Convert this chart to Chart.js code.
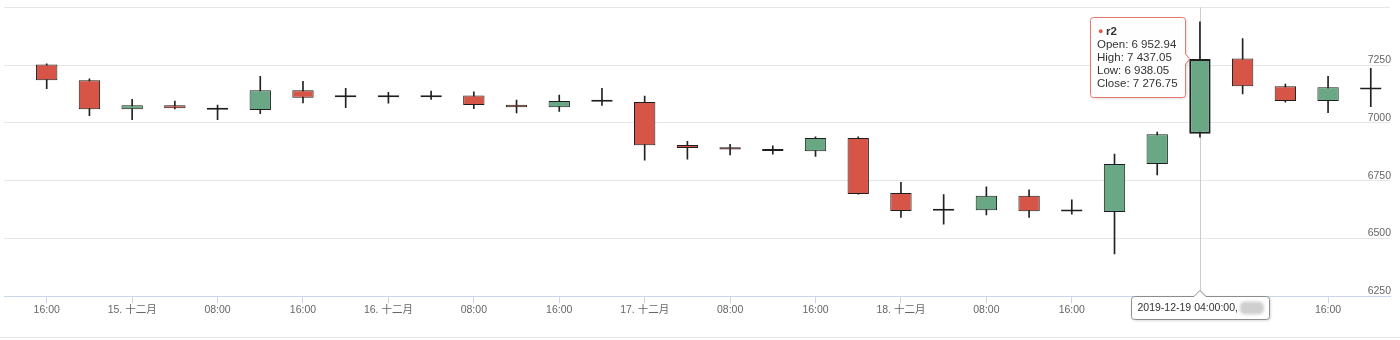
<!DOCTYPE html>
<html>
<head>
<meta charset="utf-8">
<script src="https://cdn.jsdelivr.net/npm/chart.js@4/dist/chart.umd.min.js"></script>
<style>
  html, body { margin: 0; padding: 0; background: #fff; }
  #wrap { width: 1400px; height: 340px; position: relative; }
</style>
</head>
<body>
<div id="wrap"><canvas id="kline"></canvas></div>
<script>
// serie r2, bougies de 4 heures
const seriesName = 'r2';
const times = [
    '2019-12-14 16:00', '2019-12-14 20:00', '2019-12-15 00:00', '2019-12-15 04:00',
    '2019-12-15 08:00', '2019-12-15 12:00', '2019-12-15 16:00', '2019-12-15 20:00',
    '2019-12-16 00:00', '2019-12-16 04:00', '2019-12-16 08:00', '2019-12-16 12:00',
    '2019-12-16 16:00', '2019-12-16 20:00', '2019-12-17 00:00', '2019-12-17 04:00',
    '2019-12-17 08:00', '2019-12-17 12:00', '2019-12-17 16:00', '2019-12-17 20:00',
    '2019-12-18 00:00', '2019-12-18 04:00', '2019-12-18 08:00', '2019-12-18 12:00',
    '2019-12-18 16:00', '2019-12-18 20:00', '2019-12-19 00:00', '2019-12-19 04:00',
    '2019-12-19 08:00', '2019-12-19 12:00', '2019-12-19 16:00', '2019-12-19 20:00'
];
const open = [7253, 7185, 7059, 7076, 7065, 7056, 7141, 7111, 7119, 7111, 7119, 7079, 7068, 7092, 7090, 6905,
              6895, 6887, 6878, 6935, 6697, 6620, 6622, 6685, 6617, 6615, 6822, 6952.94, 7279, 7159, 7095, 7152];
const high = [7256, 7191, 7102, 7095, 7077, 7201, 7180, 7150, 7132, 7138, 7134, 7099, 7121, 7150, 7116, 6921,
              6908, 6901, 6940, 6940, 6743, 6690, 6724, 6711, 6668, 6865, 6961, 7437.05, 7365, 7168, 7201, 7236];
const low = [7148, 7031, 7014, 7061, 7014, 7040, 7087, 7066, 7085, 7102, 7062, 7043, 7050, 7076, 6839, 6843,
             6862, 6865, 6855, 6692, 6592, 6562, 6602, 6592, 6606, 6434, 6775, 6938.05, 7125, 7090, 7044, 7070];
const close = [7185, 7059, 7076, 7063, 7057, 7141, 7109, 7119, 7111, 7119, 7078, 7068, 7095, 7093, 6904, 6892,
               6885, 6879, 6935, 6693, 6619, 6621, 6685, 6618, 6618, 6822, 6951, 7276.75, 7159, 7095, 7154, 7145];

const tickTimes = [
    '2019-12-14 16:00', '2019-12-15 00:00', '2019-12-15 08:00', '2019-12-15 16:00',
    '2019-12-16 00:00', '2019-12-16 08:00', '2019-12-16 16:00', '2019-12-17 00:00',
    '2019-12-17 08:00', '2019-12-17 16:00', '2019-12-18 00:00', '2019-12-18 08:00',
    '2019-12-18 16:00', '2019-12-19 00:00', '2019-12-19 08:00', '2019-12-19 16:00'
];
const tickLabels = ['16:00', '15. 十二月', '08:00', '16:00', '16. 十二月', '08:00', '16:00', '17. 十二月',
                    '08:00', '16:00', '18. 十二月', '08:00', '16:00', '19. 十二月', '08:00', '16:00'];
const yTickLabels = [6250, 6500, 6750, 7000, 7250];
const yMin = 6250, yMax = 7500;

const hoverIndex = times.indexOf('2019-12-19 04:00');

const upColor = '#6aa784';
const downColor = '#d75546';
const fontFamily = '"Liberation Sans", "Noto Sans CJK SC", sans-serif';

// heures depuis le 14/12 00:00
function toHours(s) {
    const [d, t] = s.split(' ');
    const [yy, mm, dd] = d.split('-').map(Number);
    const [hh, mi] = t.split(':').map(Number);
    return (Date.UTC(yy, mm - 1, dd, hh, mi) - Date.UTC(2019, 11, 14)) / 3600000;
}

function fmt(v) {
    const [a, b] = v.toFixed(2).split('.');
    return a.replace(/\B(?=(\d{3})+(?!\d))/g, ' ') + '.' + b;
}

function boxPath(ctx, x, y, w, h, r) {
    ctx.beginPath();
    ctx.moveTo(x + r, y);
    ctx.lineTo(x + w - r, y);
    ctx.arcTo(x + w, y, x + w, y + r, r);
    ctx.lineTo(x + w, y + h - r);
    ctx.arcTo(x + w, y + h, x + w - r, y + h, r);
    ctx.lineTo(x + r, y + h);
    ctx.arcTo(x, y + h, x, y + h - r, r);
    ctx.lineTo(x, y + r);
    ctx.arcTo(x, y, x + r, y, r);
    ctx.closePath();
}

const xs = times.map(toHours);

const overlay = {
    id: 'overlay',
    beforeDatasetsDraw(chart) {
        const el = chart.getDatasetMeta(0).data[hoverIndex];
        const a = chart.chartArea;
        const ctx = chart.ctx;
        ctx.save();
        ctx.strokeStyle = '#cccccc';
        ctx.lineWidth = 1;
        ctx.beginPath();
        ctx.moveTo(Math.round(el.x) + 0.5, a.top);
        ctx.lineTo(Math.round(el.x) + 0.5, a.bottom);
        ctx.stroke();
        ctx.restore();
    },
    afterDraw(chart) {
        const ctx = chart.ctx;
        const a = chart.chartArea;
        const i = hoverIndex;
        const el = chart.getDatasetMeta(0).data[i];

        // ligne du navigateur en bas
        ctx.save();
        ctx.strokeStyle = '#e6e6e6';
        ctx.beginPath();
        ctx.moveTo(0, chart.height - 2.5);
        ctx.lineTo(chart.width, chart.height - 2.5);
        ctx.stroke();
        ctx.restore();

        // infobulle
        const lines = [['Open: ', open[i]], ['High: ', high[i]], ['Low: ', low[i]], ['Close: ', close[i]]];
        ctx.save();
        ctx.font = '11.5px ' + fontFamily;
        let tw = 0;
        lines.forEach(l => { tw = Math.max(tw, ctx.measureText(l[0] + fmt(l[1])).width); });
        const lh = 13;
        const bw = Math.round(tw + 14);
        const bh = lh * 5 + 15;
        const bx = Math.round(el.x - el.width / 2 - 4 - bw) + 0.5;
        const by = Math.round(el.y - bh / 2) - 1.5;
        const cy = el.y;
        ctx.shadowColor = 'rgba(0,0,0,0.18)';
        ctx.shadowBlur = 3;
        ctx.shadowOffsetX = 1;
        ctx.shadowOffsetY = 1;
        ctx.beginPath();
        const r = 3;
        ctx.moveTo(bx + r, by);
        ctx.lineTo(bx + bw - r, by);
        ctx.arcTo(bx + bw, by, bx + bw, by + r, r);
        ctx.lineTo(bx + bw, cy - 5);
        ctx.lineTo(bx + bw + 4, cy);
        ctx.lineTo(bx + bw, cy + 5);
        ctx.lineTo(bx + bw, by + bh - r);
        ctx.arcTo(bx + bw, by + bh, bx + bw - r, by + bh, r);
        ctx.lineTo(bx + r, by + bh);
        ctx.arcTo(bx, by + bh, bx, by + bh - r, r);
        ctx.lineTo(bx, by + r);
        ctx.arcTo(bx, by, bx + r, by, r);
        ctx.closePath();
        ctx.fillStyle = 'rgba(255,255,255,0.96)';
        ctx.fill();
        ctx.shadowColor = 'transparent';
        ctx.strokeStyle = '#e5796c';
        ctx.lineWidth = 1;
        ctx.stroke();

        ctx.textBaseline = 'middle';
        ctx.textAlign = 'left';
        const tx = bx + 6.5;
        let ty = by + 14;
        ctx.fillStyle = '#e5574a';
        ctx.font = '9px ' + fontFamily;
        ctx.fillText('●', tx + 1, ty);
        ctx.fillStyle = '#333333';
        ctx.font = 'bold 11.5px ' + fontFamily;
        ctx.fillText(seriesName, tx + 9, ty);
        ctx.font = '11.5px ' + fontFamily;
        lines.forEach(l => {
            ty += lh;
            ctx.fillText(l[0] + fmt(l[1]), tx, ty);
        });
        ctx.restore();

        // etiquette de l'axe x
        ctx.save();
        ctx.font = '10.5px ' + fontFamily;
        const label = times[i] + ':00,';
        const lw = ctx.measureText(label).width;
        const blurW = 24;
        const w = Math.round(lw + blurW + 14);
        const h = 23;
        const lx = Math.round(el.x - w / 2) + 0.5;
        const ly = Math.round(a.bottom) + 0.5;
        ctx.shadowColor = 'rgba(0,0,0,0.18)';
        ctx.shadowBlur = 3;
        ctx.shadowOffsetX = 1;
        ctx.shadowOffsetY = 1;
        ctx.beginPath();
        ctx.moveTo(lx + r, ly);
        ctx.lineTo(el.x - 6, ly);
        ctx.lineTo(el.x, ly - 6);
        ctx.lineTo(el.x + 6, ly);
        ctx.lineTo(lx + w - r, ly);
        ctx.arcTo(lx + w, ly, lx + w, ly + r, r);
        ctx.lineTo(lx + w, ly + h - r);
        ctx.arcTo(lx + w, ly + h, lx + w - r, ly + h, r);
        ctx.lineTo(lx + r, ly + h);
        ctx.arcTo(lx, ly + h, lx, ly + h - r, r);
        ctx.lineTo(lx, ly + r);
        ctx.arcTo(lx, ly, lx + r, ly, r);
        ctx.closePath();
        ctx.fillStyle = '#ffffff';
        ctx.fill();
        ctx.shadowColor = 'transparent';
        ctx.strokeStyle = '#8c8c8c';
        ctx.stroke();
        ctx.fillStyle = '#333333';
        ctx.textBaseline = 'middle';
        ctx.fillText(label, lx + 6, ly + h / 2);
        ctx.filter = 'blur(1.5px)';
        ctx.fillStyle = '#cfcfcf';
        boxPath(ctx, lx + 8 + lw, ly + 5, blurW, h - 10, 5);
        ctx.fill();
        ctx.restore();
    }
};

document.addEventListener('DOMContentLoaded', () => {
    const ctx = document.getElementById('kline').getContext('2d');
    Chart.defaults.font.family = fontFamily;
    Chart.defaults.font.size = 10.5;
    Chart.defaults.color = '#666666';

    new Chart(ctx, {
        type: 'bar',
        data: {
            datasets: [{
                label: seriesName,
                data: xs.map((x, i) => ({ x: x, y: [open[i], close[i]] })),
                backgroundColor: open.map((o, i) => close[i] >= o ? upColor : downColor),
                borderColor: '#1e1e1e',
                borderWidth: c => c.dataIndex === hoverIndex ? 2 : 1,
                borderSkipped: false,
                minBarLength: 2,
                grouped: false,
                barPercentage: 0.5,
                categoryPercentage: 1,
                order: 0
            }, {
                label: seriesName + ' wick',
                data: xs.map((x, i) => ({ x: x, y: [low[i], high[i]] })),
                backgroundColor: '#222222',
                borderWidth: 0,
                grouped: false,
                barThickness: c => c.dataIndex === hoverIndex ? 2 : 1,
                order: 1
            }]
        },
        options: {
            responsive: true,
            maintainAspectRatio: false,
            animation: false,
            events: [],
            layout: { padding: { left: 4, right: 8, top: 5, bottom: 24 } },
            plugins: { legend: { display: false }, tooltip: { enabled: false } },
            scales: {
                x: {
                    type: 'linear',
                    bounds: 'data',
                    offset: false,
                    min: xs[0] - 4,
                    max: xs[xs.length - 1] + 1.8,
                    afterBuildTicks: s => { s.ticks = tickTimes.map(t => ({ value: toHours(t) })); },
                    grid: { display: true, offset: false, drawOnChartArea: false, drawTicks: true, tickLength: 7, tickColor: '#ccd6eb' },
                    border: { display: true, color: '#ccd6eb' },
                    ticks: {
                        autoSkip: false,
                        maxRotation: 0,
                        padding: 0,
                        color: '#666666',
                        callback: (v, idx) => tickLabels[idx]
                    }
                },
                y: {
                    position: 'right',
                    min: yMin,
                    max: yMax,
                    beginAtZero: false,
                    grid: { color: '#e6e6e6', drawTicks: false },
                    border: { display: false },
                    ticks: {
                        stepSize: 250,
                        mirror: true,
                        padding: 1,
                        labelOffset: -5,
                        color: '#666666',
                        callback: v => yTickLabels.includes(v) ? String(v) : ''
                    }
                }
            }
        },
        plugins: [overlay]
    });
});
</script>
</body>
</html>
